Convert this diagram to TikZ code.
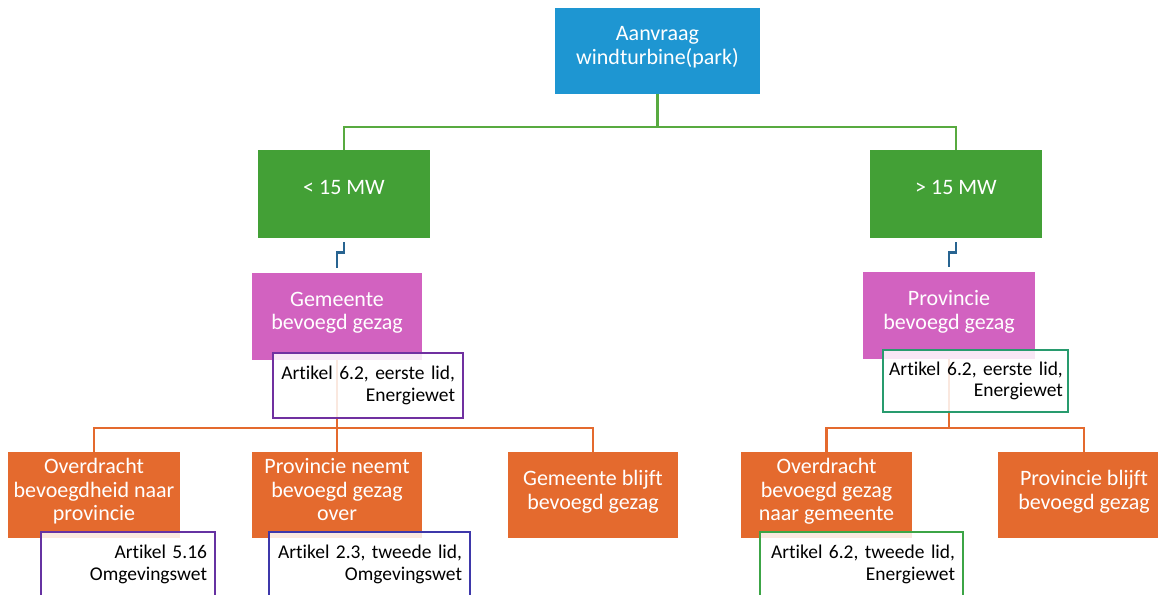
\documentclass[tikz,border=0pt]{standalone}
\usepackage{fontspec}
\setmainfont{Carlito}[RawFeature={-liga;-clig;-calt}]
\usetikzlibrary{positioning}

\definecolor{blauw}{RGB}{30,150,210}
\definecolor{groen}{RGB}{67,160,54}
\definecolor{roze}{RGB}{210,98,192}
\definecolor{oranje}{RGB}{228,106,46}
\definecolor{lijngroen}{RGB}{88,170,64}
\definecolor{jogblauw}{RGB}{40,100,145}
\definecolor{paars}{RGB}{112,48,160}
\definecolor{indigo}{RGB}{62,56,170}
\definecolor{teal}{RGB}{40,155,110}
\definecolor{groenrand}{RGB}{60,165,70}

\tikzset{
  blok/.style={text=white, align=center, inner sep=0pt, text depth=8pt,
    font=\fontsize{16.5}{17.7}\selectfont},
  artikel/.style={draw, line width=1.4pt, fill=white, fill opacity=.85,
    text opacity=1, align=right, inner xsep=6pt, inner ysep=0pt,
    minimum height=48.75pt, font=\fontsize{14.6}{16.3}\selectfont},
}

\begin{document}
\begin{tikzpicture}[x=0.75pt,y=-0.75pt]
            \clip (0,0) rectangle (1158,594);
            \useasboundingbox (0,0) rectangle (1158,594);

            \node[blok, fill=blauw, minimum width=153.75pt, minimum height=64.5pt] (aanvraag) at (657.5,51) {Aanvraag\\windturbine(park)};
            \node[blok, fill=groen, minimum width=129pt, minimum height=66pt, text depth=10pt] (klein) at (344,194) {< 15 MW};
            \node[blok, fill=groen, minimum width=129pt, minimum height=66pt, text depth=10pt] (groot) at (956,194) {> 15 MW};
            \node[blok, fill=roze, minimum width=127.5pt, minimum height=65.25pt] (gemeente) at (337,316) {Gemeente\\bevoegd gezag};
            \node[blok, fill=roze, minimum width=129pt, minimum height=65.25pt] (provincie) at (949,315) {Provincie\\bevoegd gezag};

            \node[blok, fill=oranje, minimum width=129pt, minimum height=64.5pt] (overdrachtp) at (94,495) {Overdracht\\bevoegdheid naar\\provincie};
            \node[blok, fill=oranje, minimum width=128pt, minimum height=64.5pt] (neemt) at (337,495) {Provincie neemt\\bevoegd gezag\\over};
            \node[blok, fill=oranje, minimum width=128pt, minimum height=64.5pt] (gemblijft) at (593,495) {Gemeente blijft\\bevoegd gezag};
            \node[blok, fill=oranje, minimum width=128pt, minimum height=64.5pt] (overdrachtg) at (826.5,495) {Overdracht\\bevoegd gezag\\naar gemeente};
            \node[blok, fill=oranje, minimum width=129pt, minimum height=64.5pt] (provblijft) at (1084,495) {Provincie blijft\\bevoegd gezag};

            \coordinate (splitboven) at (657.5,127);
            \coordinate (splitlinks) at (337,428);
            \coordinate (splitrechts) at (949,428);

            \draw[lijngroen, line width=2.2pt] (aanvraag.south) -- (splitboven) -| (klein.north);
            \draw[lijngroen, line width=2.2pt] (splitboven) -| (groot.north);

            \draw[jogblauw, line width=1.9pt, shorten <=3pt, shorten >=3pt] (klein.south) -- ++(0,14) -| (gemeente.north);
            \draw[jogblauw, line width=1.9pt, shorten <=3pt, shorten >=3pt] (groot.south) -- ++(0,14) -| (provincie.north);

            \draw[oranje, line width=1.6pt] (gemeente.south) -- (splitlinks) -| (overdrachtp.north);
            \draw[oranje, line width=1.6pt] (splitlinks) -- (neemt.north);
            \draw[oranje, line width=1.6pt] (splitlinks) -| (gemblijft.north);
            \draw[oranje, line width=1.6pt] (provincie.south) -- (splitrechts) -| (overdrachtg.north);
            \draw[oranje, line width=1.6pt] (splitrechts) -| (provblijft.north);

            \node[artikel, draw=paars, text width=130.5pt] (artgemeente) at (368,385.5) {Artikel 6.2, eerste lid,\\Energiewet};
            \node[artikel, draw=teal, text width=131pt, inner xsep=3.8pt, minimum height=46.5pt] (artprovincie) at (975.5,381) {Artikel 6.2, eerste lid,\\Energiewet};
            \node[artikel, draw=paars!80!indigo, text width=118.5pt] (artomgeving) at (128,564.5) {Artikel 5.16\\Omgevingswet};
            \node[artikel, draw=indigo, text width=138.75pt] (arttweede) at (369.5,564.5) {Artikel 2.3, tweede lid,\\Omgevingswet};
            \node[artikel, draw=groenrand, text width=140.25pt] (artenergie) at (861.5,564.5) {Artikel 6.2, tweede lid,\\Energiewet};
        \end{tikzpicture}
\end{document}
